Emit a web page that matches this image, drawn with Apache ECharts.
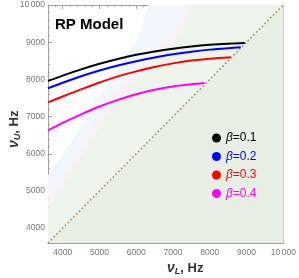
<!DOCTYPE html>
<html><head><meta charset="utf-8">
<script src="https://cdn.jsdelivr.net/npm/echarts@6/dist/echarts.min.js"></script>
<style>html,body{margin:0;padding:0;background:#fff}#c{width:299px;height:278px}</style>
</head><body><div id="c"></div>
<script>
const axisMin = 3600, axisMax = 10000;
const majorTicks = [4000, 5000, 6000, 7000, 8000, 9000, 10000];
const seriesNames = ['β=0.1', 'β=0.2', 'β=0.3', 'β=0.4'];
const seriesColors = ['#000000', '#0000ff', '#ff0000', '#ff00ff'];
const curveBeta01 = [[3600,7955],[4000,8100],[4500,8270],[5000,8420],[5500,8550],[6000,8660],[6500,8750],[7000,8825],[7500,8885],[8000,8930],[8500,8960],[8950,8978]];
const curveBeta02 = [[3600,7760],[4000,7910],[4500,8085],[5000,8240],[5500,8375],[6000,8490],[6500,8590],[7000,8675],[7500,8745],[8000,8800],[8500,8840],[8842,8862]];
const curveBeta03 = [[3600,7380],[4000,7540],[4500,7730],[5000,7915],[5500,8080],[6000,8215],[6500,8335],[7000,8430],[7500,8505],[8000,8555],[8574,8594]];
const curveBeta04 = [[3600,6630],[4000,6830],[4500,7060],[5000,7270],[5500,7450],[6000,7600],[6500,7720],[7000,7810],[7500,7870],[7861,7905]];
const diagonal = [[3600,3600],[10000,10000]];
const blueEdge = [[3600,5420],[4276,6408],[4946,7480],[5992,9008],[6340,10000]];
const pinkEdge = [[3600,4800],[5268,7480],[6933,9169],[7330,10000]];
const greenEdge = [[3600,4530],[5500,7480],[7163,9169],[7560,10000]];
const curves = [curveBeta01, curveBeta02, curveBeta03, curveBeta04];

const greenPoly = greenEdge.concat([[10000,10000],[10000,3600],[3600,3600]]);
const pinkPoly = pinkEdge.concat(greenEdge.slice().reverse());
const bluePoly = blueEdge.concat(pinkEdge.slice().reverse());
const belowDiag = [[3600,3600],[10000,10000],[10000,3600]];

function polySeries(pts, fill) {
  return {
    type: 'custom', clip: true, silent: true, z: 1,
    data: [[3600,3600]],
    renderItem: function (params, api) {
      return { type: 'polygon', shape: { points: pts.map(p => api.coord(p)) }, style: { fill: fill } };
    }
  };
}

const font = 'Liberation Sans, Arial, sans-serif';
const tickFmt = v => (v % 1000 === 0 ? (v === 10000 ? '10\u2009000' : String(v)) : '');
const lineC = '#a0a0a0';

function baseAxis(pos, extra) {
  return Object.assign({
    type: 'value', position: pos, min: axisMin, max: axisMax, interval: 200,
    axisLine: { show: true, lineStyle: { color: lineC, width: 1 } },
    axisTick: { show: true, inside: true, length: 2, lineStyle: { color: lineC } },
    axisLabel: { show: false },
    splitLine: { show: false }
  }, extra || {});
}
function majorAxis(pos) {
  return {
    type: 'value', position: pos, min: axisMin, max: axisMax, interval: 200,
    axisLine: { show: false },
    axisTick: { show: true, inside: true, length: 4, customValues: majorTicks, lineStyle: { color: lineC } },
    axisLabel: { show: false }, splitLine: { show: false }
  };
}

const chart = echarts.init(document.getElementById('c'), null, { renderer: 'canvas' });
const series = [
  polySeries(greenPoly, '#edf4eb'),
  polySeries(belowDiag, '#e8f0e6'),
  polySeries(pinkPoly, '#f8f1f5'),
  polySeries(bluePoly, '#f1f7fd'),
  {
    type: 'line', data: diagonal, showSymbol: false, silent: true, z: 3,
    lineStyle: { color: '#b08a5c', width: 1.6, type: [1.6, 2.4] }
  }
];
curves.forEach((c, i) => {
  series.push({
    name: seriesNames[i], type: 'line', data: c, smooth: 0.3, showSymbol: false, z: 5,
    itemStyle: { color: seriesColors[i] },
    lineStyle: { color: seriesColors[i], width: 2 }
  });
});

chart.setOption({
  animation: false,
  backgroundColor: '#ffffff',
  grid: { left: 48, top: 5, width: 239, height: 238, show: false },
  xAxis: [
    baseAxis('bottom', { axisLabel: { show: true, formatter: tickFmt, margin: 5, fontSize: 8.5, color: '#777', fontFamily: font } }),
    baseAxis('top'),
    majorAxis('bottom'),
    majorAxis('top')
  ],
  yAxis: [
    baseAxis('left', { axisLabel: { show: true, formatter: tickFmt, margin: 3, fontSize: 8.5, color: '#777', fontFamily: font } }),
    baseAxis('right'),
    majorAxis('left'),
    majorAxis('right')
  ],
  legend: {
    orient: 'vertical', left: 207, top: 126, icon: 'circle', itemWidth: 9, itemHeight: 9, itemGap: 4.5,
    data: seriesNames.map((n, i) => ({ name: n, textStyle: { color: seriesColors[i] } })),
    formatter: n => '{g|β}{n|' + n.slice(1) + '}',
    textStyle: {
      fontFamily: font, fontSize: 12, lineHeight: 14,
      rich: { g: { fontStyle: 'italic', fontSize: 12, fontFamily: font }, n: { fontSize: 12, fontFamily: font } }
    }
  },
  graphic: [
    { type: 'text', left: 55, top: 17, z: 10,
      style: { text: 'RP Model', font: 'bold 15px ' + font, fill: '#000' } },
    { type: 'text', left: 167, top: 261, z: 10,
      style: { text: '{a|ν}{s|L}{b|, Hz}', fill: '#333',
        rich: { a: { font: 'bold italic 14px ' + font, fill: '#333' },
                s: { font: 'bold italic 9px ' + font, fill: '#333', padding: [7, 0, 0, 0] },
                b: { font: 'bold 13px ' + font, fill: '#333' } } } },
    { type: 'text', x: 6, y: 148, rotation: Math.PI / 2, z: 10,
      style: { text: '{a|ν}{s|U}{b|, Hz}', fill: '#333',
        rich: { a: { font: 'bold italic 14px ' + font, fill: '#333' },
                s: { font: 'bold italic 9px ' + font, fill: '#333', padding: [7, 0, 0, 0] },
                b: { font: 'bold 13px ' + font, fill: '#333' } } } }
  ],
  series: series
});
</script>
</body></html>
